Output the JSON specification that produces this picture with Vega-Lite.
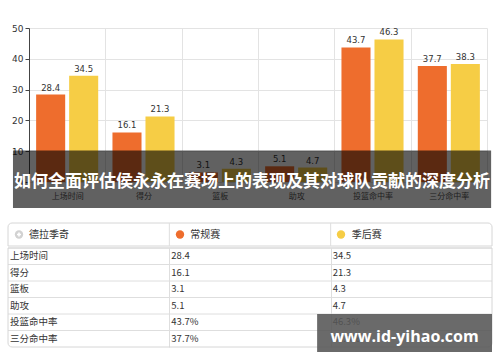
{
  "$schema": "https://vega.github.io/schema/vega-lite/v6.json",
  "padding": {"left": 7, "top": 24, "right": 5, "bottom": 5},
  "background": "white",
  "config": {"view": {"stroke": null}, "font": "Noto Sans CJK SC"},
  "spacing": 0,
  "vconcat": [
    {
      "width": 458,
      "height": 154,
      "layer": [
        {
          "data": {"values": [
            {"category": "上场时间", "series": "常规赛", "value": 28.4},
            {"category": "上场时间", "series": "季后赛", "value": 34.5},
            {"category": "得分", "series": "常规赛", "value": 16.1},
            {"category": "得分", "series": "季后赛", "value": 21.3},
            {"category": "篮板", "series": "常规赛", "value": 3.1},
            {"category": "篮板", "series": "季后赛", "value": 4.3},
            {"category": "助攻", "series": "常规赛", "value": 5.1},
            {"category": "助攻", "series": "季后赛", "value": 4.7},
            {"category": "投篮命中率", "series": "常规赛", "value": 43.7},
            {"category": "投篮命中率", "series": "季后赛", "value": 46.3},
            {"category": "三分命中率", "series": "常规赛", "value": 37.7},
            {"category": "三分命中率", "series": "季后赛", "value": 38.3}
          ]},
          "encoding": {
            "x": {"field": "category", "type": "nominal", "sort": null,
              "scale": {"paddingInner": 0, "paddingOuter": 0},
              "axis": {"title": null, "labelAngle": 0, "labelFontSize": 8, "labelColor": "#555", "tickBand": "extent", "grid": true, "gridColor": "#e3e3e3", "domain": false, "ticks": false, "labelPadding": 10}},
            "xOffset": {"field": "series", "type": "nominal", "sort": ["常规赛", "季后赛"],
              "scale": {"paddingInner": 0.12, "paddingOuter": 0.216}},
            "y": {"field": "value", "type": "quantitative", "scale": {"domain": [0, 50]},
              "axis": {"title": null, "values": [0, 10, 20, 30, 40, 50], "labelOverlap": false, "labelFontSize": 9, "labelFont": "DejaVu Sans", "labelColor": "#333", "domainColor": "#444", "tickColor": "#444", "tickSize": 4, "gridColor": "#e3e3e3", "minExtent": 21, "maxExtent": 21}}
          },
          "layer": [
            {
              "mark": {"type": "bar"},
              "encoding": {
                "color": {"field": "series", "type": "nominal",
                  "scale": {"domain": ["常规赛", "季后赛"], "range": ["#EE6D2D", "#F6CD45"]}, "legend": null}
              }
            },
            {
              "mark": {"type": "text", "baseline": "bottom", "dy": -2, "fontSize": 8.5, "font": "DejaVu Sans", "color": "#333"},
              "encoding": {
                "text": {"field": "value", "type": "quantitative", "format": ".1f"}
              }
            }
          ]
        },
        {
          "data": {"values": [{"t": "如何全面评估侯永永在赛场上的表现及其对球队贡献的深度分析"}]},
          "layer": [
            {
              "mark": {"type": "rect", "color": "black", "opacity": 0.62},
              "encoding": {
                "x": {"datum": -0.035, "type": "quantitative", "scale": {"domain": [0, 1], "nice": false, "zero": false}, "axis": null},
                "x2": {"datum": 1.009},
                "y": {"datum": 10.2, "type": "quantitative",
                  "axis": {"title": null, "values": [0, 10, 20, 30, 40, 50], "labelOverlap": false, "labelFontSize": 9, "labelFont": "DejaVu Sans", "labelColor": "#333", "domainColor": "#444", "tickColor": "#444", "tickSize": 4, "gridColor": "#e3e3e3", "minExtent": 21, "maxExtent": 21}},
                "y2": {"datum": -8.44}
              }
            },
            {
              "mark": {"type": "text", "color": "white", "fontWeight": "bold", "fontSize": 17, "font": "Noto Sans CJK SC", "align": "center", "baseline": "middle"},
              "encoding": {
                "x": {"datum": 0.487, "type": "quantitative", "scale": {"domain": [0, 1], "nice": false, "zero": false}, "axis": null},
                "y": {"datum": -0.16, "type": "quantitative",
                  "axis": {"title": null, "values": [0, 10, 20, 30, 40, 50], "labelOverlap": false, "labelFontSize": 9, "labelFont": "DejaVu Sans", "labelColor": "#333", "domainColor": "#444", "tickColor": "#444", "tickSize": 4, "gridColor": "#e3e3e3", "minExtent": 21, "maxExtent": 21}},
                "text": {"field": "t"}
              }
            }
          ]
        }
      ],
      "resolve": {"scale": {"x": "independent"}}
    },
    {
      "width": 463,
      "height": 38,
      "data": {"values": [{"h": "德拉季奇"}, {"h": "常规赛"}, {"h": "季后赛"}]},
      "encoding": {
        "y": {"datum": 0.3026, "type": "quantitative", "scale": {"domain": [0, 1], "nice": false, "zero": false}, "axis": null}
      },
      "layer": [
        {
          "transform": [{"filter": "datum.h === '德拉季奇'"}],
          "mark": {"type": "rect", "fill": "white", "stroke": "#d6d6d6", "cornerRadiusTopLeft": 4, "cornerRadiusTopRight": 4},
          "encoding": {
            "x": {"datum": 0, "type": "quantitative", "scale": {"domain": [0.13, 3], "nice": false, "zero": false}, "axis": null},
            "x2": {"datum": 3},
            "y": {"datum": 0, "type": "quantitative"},
            "y2": {"datum": 0.605}
          }
        },
        {
          "transform": [{"filter": "datum.h === '德拉季奇'"}],
          "mark": {"type": "rule", "color": "#dedede"},
          "encoding": {
            "x": {"datum": 1, "type": "quantitative"},
            "y": {"datum": 0, "type": "quantitative"},
            "y2": {"datum": 0.605}
          }
        },
        {
          "transform": [{"filter": "datum.h === '德拉季奇'"}],
          "mark": {"type": "rule", "color": "#dedede"},
          "encoding": {
            "x": {"datum": 2, "type": "quantitative"},
            "y": {"datum": 0, "type": "quantitative"},
            "y2": {"datum": 0.605}
          }
        },
        {
          "transform": [{"filter": "datum.h === '德拉季奇'"}],
          "mark": {"type": "text", "align": "left", "baseline": "middle", "dx": 21, "fontSize": 10, "color": "#333"},
          "encoding": {"x": {"datum": 0, "type": "quantitative"}, "text": {"field": "h"}}
        },
        {
          "transform": [{"filter": "datum.h === '常规赛'"}],
          "mark": {"type": "text", "align": "left", "baseline": "middle", "dx": 21, "fontSize": 10, "color": "#333"},
          "encoding": {"x": {"datum": 1, "type": "quantitative"}, "text": {"field": "h"}}
        },
        {
          "transform": [{"filter": "datum.h === '季后赛'"}],
          "mark": {"type": "text", "align": "left", "baseline": "middle", "dx": 21, "fontSize": 10, "color": "#333"},
          "encoding": {"x": {"datum": 2, "type": "quantitative"}, "text": {"field": "h"}}
        },
        {
          "transform": [{"filter": "datum.h === '德拉季奇'"}],
          "mark": {"type": "circle", "size": 70, "opacity": 1, "color": "#d2d2d2"},
          "encoding": {"x": {"datum": 0.068, "type": "quantitative"}}
        },
        {
          "transform": [{"filter": "datum.h === '德拉季奇'"}],
          "mark": {"type": "point", "shape": "cross", "filled": true, "size": 16, "color": "white", "opacity": 1},
          "encoding": {"x": {"datum": 0.068, "type": "quantitative"}}
        },
        {
          "transform": [{"filter": "datum.h === '常规赛'"}],
          "mark": {"type": "circle", "size": 70, "opacity": 1, "color": "#EE6D2D"},
          "encoding": {"x": {"datum": 1.066, "type": "quantitative"}}
        },
        {
          "transform": [{"filter": "datum.h === '季后赛'"}],
          "mark": {"type": "circle", "size": 70, "opacity": 1, "color": "#F6CD45"},
          "encoding": {"x": {"datum": 2.064, "type": "quantitative"}}
        }
      ]
    },
    {
      "width": 463,
      "height": 99,
      "layer": [
        {
          "data": {"values": [
            {"label": "上场时间", "reg": "28.4", "post": "34.5"},
            {"label": "得分", "reg": "16.1", "post": "21.3"},
            {"label": "篮板", "reg": "3.1", "post": "4.3"},
            {"label": "助攻", "reg": "5.1", "post": "4.7"},
            {"label": "投篮命中率", "reg": "43.7%", "post": "46.3%"},
            {"label": "三分命中率", "reg": "37.7%", "post": "38.3%"}
          ]},
          "encoding": {
            "y": {"field": "label", "type": "nominal", "sort": null,
              "scale": {"paddingInner": 0, "paddingOuter": 0}, "axis": null}
          },
          "layer": [
            {
              "mark": {"type": "rule", "color": "#dedede"},
              "encoding": {
                "x": {"datum": 0, "type": "quantitative", "scale": {"domain": [0.13, 3], "nice": false, "zero": false},
                  "axis": {"title": null, "values": [1, 2], "labels": false, "ticks": false, "domain": false, "grid": true, "gridColor": "#dedede"}},
                "x2": {"datum": 3},
                "y": {"field": "label", "type": "nominal", "sort": null, "bandPosition": 0}
              }
            },
            {
              "mark": {"type": "text", "align": "left", "baseline": "middle", "dx": 2, "fontSize": 9.5, "color": "#333"},
              "encoding": {
                "x": {"datum": 0, "type": "quantitative"},
                "text": {"field": "label"}
              }
            },
            {
              "mark": {"type": "text", "align": "left", "baseline": "middle", "dx": 2, "fontSize": 9.5, "color": "#333"},
              "encoding": {
                "x": {"datum": 1, "type": "quantitative"},
                "text": {"field": "reg"}
              }
            },
            {
              "mark": {"type": "text", "align": "left", "baseline": "middle", "dx": 2, "fontSize": 9.5, "color": "#333"},
              "encoding": {
                "x": {"datum": 2, "type": "quantitative"},
                "text": {"field": "post"}
              }
            }
          ]
        },
        {
          "data": {"values": [{"wm": "www.id-yihao.com"}]},
          "layer": [
            {
              "mark": {"type": "rect", "fill": null, "filled": false, "stroke": "#d6d6d6", "cornerRadiusBottomLeft": 4, "cornerRadiusBottomRight": 4},
              "encoding": {
                "x": {"datum": 0, "type": "quantitative"},
                "x2": {"datum": 3},
                "y": {"datum": 0, "type": "quantitative", "scale": {"domain": [0, 1], "reverse": true, "nice": false, "zero": false}, "axis": null},
                "y2": {"datum": 1}
              }
            },
            {
              "mark": {"type": "rect", "fill": "#555555", "opacity": 0.88},
              "encoding": {
                "x": {"datum": 1.916, "type": "quantitative"},
                "x2": {"datum": 3.0},
                "y": {"datum": 0.667, "type": "quantitative"},
                "y2": {"datum": 1.05}
              }
            },
            {
              "mark": {"type": "text", "color": "white", "fontWeight": "bold", "fontSize": 16, "font": "Open Sans", "align": "center", "baseline": "middle"},
              "encoding": {
                "x": {"datum": 2.458, "type": "quantitative"},
                "y": {"datum": 0.9, "type": "quantitative"},
                "text": {"field": "wm"}
              }
            }
          ]
        }
      ],
      "resolve": {"scale": {"y": "independent"}}
    }
  ]
}
